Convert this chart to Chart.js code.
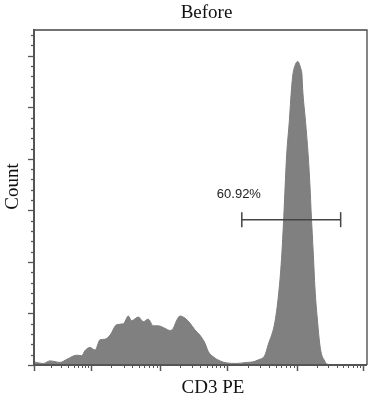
<!DOCTYPE html>
<html>
<head>
<meta charset="utf-8">
<script src="https://cdn.jsdelivr.net/npm/chart.js@4/dist/chart.umd.min.js"></script>
<style>
html,body{margin:0;padding:0;background:#fff;}
#wrap{width:383px;height:400px;position:relative;}
</style>
</head>
<body>
<div id="wrap"><canvas id="c" width="383" height="400"></canvas></div>
<script>
// ---- data ----
const titleText = "Before";
const xTitle = "CD3 PE";
const yTitle = "Count";
const channels = [0,29,49,80,101,131,147,157,172,188,203,218,234,254,275,290,300,321,336,351,367,382,403,418,428,439,449,464,480,495,510,526,536,551,572,593,623,654,672,690,710,720,741,754,762,769,772,777,785,792,796,800,811,820,824,826,835,843,849,852,859,864,872,879,885,892,900,926,1024];
const counts   = [6,3,8,5,11,19,18,28,34,29,49,50,58,78,80,95,86,93,84,89,76,76,71,67,71,87,95,91,81,68,58,42,26,16,8,4,3,5,6,10,19,39,84,149,214,300,343,408,472,537,563,576,589,576,563,537,472,408,343,300,214,149,84,39,19,10,2,0,0];
const gateRange = [639, 943];
const gateLevel = 282;
const gateLabel = "60.92%";
const xMajorTicks = [0,174,387,593,808,1012];
const yMajorTicks = [0,100,200,300,400,500,600];
const yMinorStep = 20;
const xMax = 1024, yMax = 650;

const histData = channels.map((c,i)=>({x:c,y:counts[i]}));
const gateData = gateRange.map(c=>({x:c,y:gateLevel}));

const framePlugin = {
  id:'frame',
  afterDraw(chart){
    const ctx = chart.ctx, xs = chart.scales.x, ys = chart.scales.y;
    const a = chart.chartArea;
    ctx.save();
    ctx.strokeStyle = '#444'; ctx.lineWidth = 1.3;
    ctx.beginPath(); ctx.moveTo(a.left, a.top); ctx.lineTo(a.right, a.top); ctx.lineTo(a.right, a.bottom); ctx.stroke();
    ctx.strokeStyle = '#555'; ctx.lineWidth = 2;
    ctx.beginPath(); ctx.moveTo(a.left, a.top-1); ctx.lineTo(a.left, a.bottom); ctx.lineTo(a.right, a.bottom); ctx.stroke();
    ctx.lineWidth = 1.3; ctx.strokeStyle='#555';
    for(let v=0; v<=yMax; v+=yMinorStep){
      const p = Math.round(ys.getPixelForValue(v))+0.5;
      const major = yMajorTicks.includes(v);
      ctx.beginPath(); ctx.moveTo(a.left - (major?6:3), p); ctx.lineTo(a.left, p); ctx.stroke();
    }
    for(let i=0;i<xMajorTicks.length;i++){
      const m = xMajorTicks[i];
      const p = Math.round(xs.getPixelForValue(m))+0.5;
      ctx.lineWidth = 1.5;
      ctx.beginPath(); ctx.moveTo(p, a.bottom); ctx.lineTo(p, a.bottom+6); ctx.stroke();
      if(i<xMajorTicks.length-1){
        const n = xMajorTicks[i+1];
        ctx.lineWidth = 1;
        for(let k=2;k<=9;k++){
          const q = Math.round(xs.getPixelForValue(m + (n-m)*Math.log10(k)))+0.5;
          ctx.beginPath(); ctx.moveTo(q, a.bottom); ctx.lineTo(q, a.bottom+3); ctx.stroke();
        }
      }
    }
    ctx.fillStyle = '#111';
    ctx.font = '19px "Liberation Serif", "Times New Roman", serif';
    ctx.textAlign = 'center'; ctx.textBaseline = 'alphabetic';
    ctx.fillText(titleText, 206.5, 18);
    ctx.fillText(xTitle, 213, 393);
    ctx.save();
    ctx.translate(18, 186.5); ctx.rotate(-Math.PI/2);
    ctx.fillText(yTitle, 0, 0);
    ctx.restore();
    ctx.fillStyle = '#222';
    ctx.font = '13px "Liberation Sans", Arial, sans-serif';
    ctx.fillText(gateLabel, xs.getPixelForValue(630), ys.getPixelForValue(gateLevel) - 22);
    ctx.restore();
  }
};

new Chart(document.getElementById('c'), {
  type:'line',
  data:{datasets:[
    {data:histData, fill:'origin', backgroundColor:'#808080', borderColor:'#7c7c7c', borderWidth:1,
     pointRadius:0, cubicInterpolationMode:'monotone', order:2},
    {data:gateData, fill:false, borderColor:'#444', borderWidth:1.5, pointStyle:'line', rotation:90,
     pointRadius:7.5, pointBorderColor:'#444', pointBorderWidth:1.5, order:1}
  ]},
  options:{
    responsive:false, animation:false, devicePixelRatio:1,
    layout:{padding:{left:34, right:16, top:30, bottom:35}},
    plugins:{legend:{display:false}, tooltip:{enabled:false}, title:{display:false}},
    scales:{
      x:{type:'linear', min:0, max:xMax, display:false},
      y:{type:'linear', min:0, max:yMax, display:false}
    }
  },
  plugins:[framePlugin]
});
</script>
</body>
</html>
